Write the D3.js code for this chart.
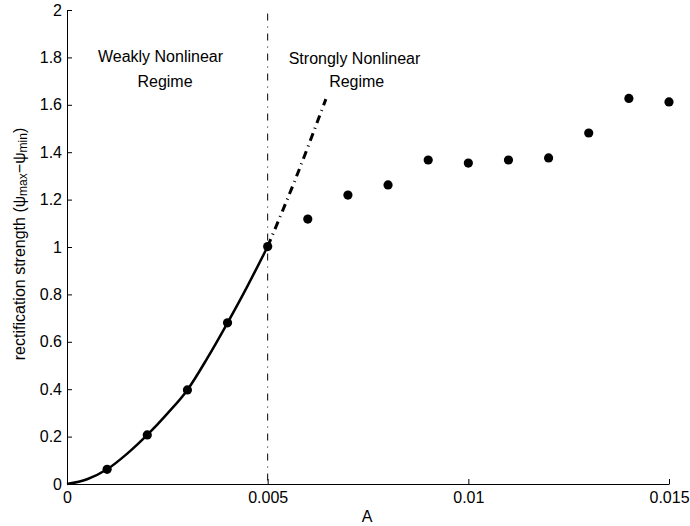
<!DOCTYPE html>
<html>
<head>
<meta charset="utf-8">
<script src="https://cdn.jsdelivr.net/npm/d3@7"></script>
<style>
  html, body { margin: 0; padding: 0; background: #fff; }
  svg { display: block; font-family: Arial, "Liberation Sans", Helvetica, sans-serif; }
</style>
</head>
<body>
<svg id="chart" width="690" height="526"></svg>
<script>
// Measured rectification strength vs forcing amplitude A
const amplitudes = [0.001, 0.002, 0.003, 0.004, 0.005, 0.006, 0.007, 0.008,
                    0.009, 0.010, 0.011, 0.012, 0.013, 0.014, 0.015];
const strengths  = [0.062, 0.207, 0.397, 0.680, 1.002, 1.118, 1.219, 1.262,
                    1.367, 1.354, 1.367, 1.376, 1.481, 1.627, 1.612];

// Fitted curve through the weakly nonlinear points
const fitA = [0, 0.0005, 0.001, 0.0015, 0.002, 0.0025, 0.003, 0.0035, 0.004, 0.0045, 0.005];
const fitS = [0, 0.020, 0.062, 0.128, 0.207, 0.297, 0.397, 0.532, 0.680, 0.836, 1.002];

// Extrapolation of the fit into the strongly nonlinear range
const extA = [0.005, 0.0057, 0.00645];
const extS = [1.002, 1.290, 1.624];

// Regime boundary
const boundaryA = 0.005;

const xTicks = [0, 0.005, 0.01, 0.015];
const xTickLabels = ["0", "0.005", "0.01", "0.015"];
const yTicks = [0, 0.2, 0.4, 0.6, 0.8, 1, 1.2, 1.4, 1.6, 1.8, 2];
const yTickLabels = ["0", "0.2", "0.4", "0.6", "0.8", "1", "1.2", "1.4", "1.6", "1.8", "2"];

const svg = d3.select("#chart");
const plotLeft = 67, plotRight = 669, plotTop = 10, plotBottom = 484;

const x = d3.scaleLinear().domain([0, 0.015]).range([plotLeft, plotRight]);
const y = d3.scaleLinear().domain([0, 2]).range([plotBottom, plotTop]);

// Axes (ticks pointing inward)
const xAxis = d3.axisBottom(x).tickValues(xTicks)
  .tickFormat((d, i) => xTickLabels[i]).tickSizeInner(-5).tickSizeOuter(0).tickPadding(8);
const yAxis = d3.axisLeft(y).tickValues(yTicks)
  .tickFormat((d, i) => yTickLabels[i]).tickSizeInner(-5).tickSizeOuter(0).tickPadding(5);

const gx = svg.append("g").attr("transform", `translate(0,${plotBottom})`).call(xAxis);
const gy = svg.append("g").attr("transform", `translate(${plotLeft},0)`).call(yAxis);
[gx, gy].forEach(g => {
  g.select(".domain").attr("stroke", "#000").attr("stroke-width", 1);
  g.selectAll(".tick line").attr("stroke", "#000");
  g.selectAll(".tick text").attr("fill", "#000").attr("font-size", 16)
    .attr("font-family", "Arial, 'Liberation Sans', sans-serif");
});
gy.selectAll(".tick text").attr("x", -5);

// Regime boundary (thin dash-dot)
svg.append("line")
  .attr("x1", x(boundaryA)).attr("x2", x(boundaryA))
  .attr("y1", y(1.985)).attr("y2", y(0))
  .attr("stroke", "#000").attr("stroke-width", 1)
  .attr("stroke-dasharray", "7,6,1,6");

const line = d3.line().x(d => x(d[0])).y(d => y(d[1])).curve(d3.curveMonotoneX);

// Fit curve (solid)
svg.append("path")
  .datum(fitA.map((a, i) => [a, fitS[i]]))
  .attr("d", line)
  .attr("fill", "none").attr("stroke", "#000").attr("stroke-width", 2.5);

// Extrapolated fit (thick dash-dot)
svg.append("path")
  .datum(extA.map((a, i) => [a, extS[i]]))
  .attr("d", line)
  .attr("fill", "none").attr("stroke", "#000").attr("stroke-width", 3)
  .attr("stroke-dasharray", "8,5,1,5");

// Data points
svg.append("g").selectAll("circle")
  .data(amplitudes.map((a, i) => [a, strengths[i]]))
  .join("circle")
  .attr("cx", d => x(d[0])).attr("cy", d => y(d[1]))
  .attr("r", 4.6).attr("fill", "#000");

// Regime annotations
const ann = [
  {t: "Weakly Nonlinear", cx: 160.5, cy: 56},
  {t: "Regime", cx: 165, cy: 81},
  {t: "Strongly Nonlinear", cx: 354.5, cy: 58},
  {t: "Regime", cx: 356.7, cy: 81}
];
svg.append("g").selectAll("text").data(ann).join("text")
  .attr("x", d => d.cx).attr("y", d => d.cy)
  .attr("text-anchor", "middle").attr("dominant-baseline", "central")
  .attr("font-size", 16).attr("fill", "#000")
  .text(d => d.t);

// Axis titles
svg.append("text")
  .attr("x", (plotLeft + plotRight) / 2 - 1).attr("y", 516)
  .attr("text-anchor", "middle").attr("dominant-baseline", "central")
  .attr("font-size", 16).text("A");

const yl = svg.append("text")
  .attr("transform", `translate(19,${(plotTop + plotBottom) / 2 - 3}) rotate(-90)`)
  .attr("text-anchor", "middle").attr("dominant-baseline", "central")
  .attr("font-size", 16);
yl.append("tspan").text("rectification strength (ψ");
yl.append("tspan").attr("font-size", 12).attr("dy", 4).text("max");
yl.append("tspan").attr("dy", -4).text("−ψ");
yl.append("tspan").attr("font-size", 12).attr("dy", 4).text("min");
yl.append("tspan").attr("dy", -4).text(")");
</script>
</body>
</html>
